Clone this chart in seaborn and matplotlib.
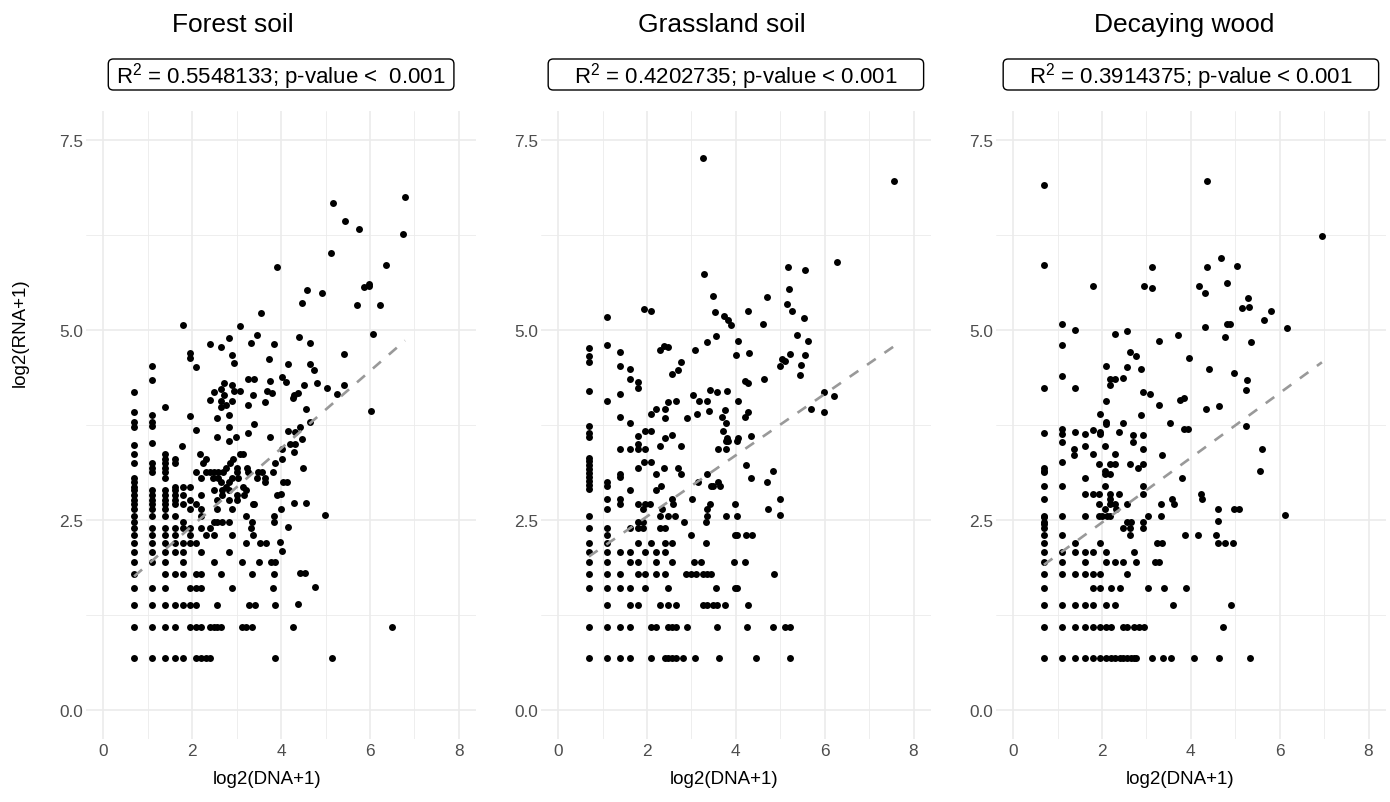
import numpy as np
import pandas as pd

import seaborn as sns
import matplotlib.pyplot as plt
from matplotlib.patches import FancyBboxPatch
from matplotlib.transforms import IdentityTransform

sns.set_style("white")
plt.rcParams["font.family"] = ["Liberation Sans", "DejaVu Sans"]
plt.rcParams["mathtext.fontset"] = "custom"
plt.rcParams["mathtext.rm"] = "Liberation Sans"
plt.rcParams["text.color"] = "black"
plt.rcParams["axes.labelcolor"] = "black"

DPI = 100
FIGSIZE = (13.9, 8.03)
GRID = "#EBEBEB"

titles = ["Forest soil", "Grassland soil", "Decaying wood"]
stats = [
    "R$^{2}$ = 0.5548133; p-value <  0.001",
    "R$^{2}$ = 0.4202735; p-value < 0.001",
    "R$^{2}$ = 0.3914375; p-value < 0.001",
]
# dashed lm line
fit_intercept = [1.41, 1.745, 1.62]
fit_slope = [0.508, 0.402, 0.425]

# scattered points (dna, rna)
forest_pts = [
    (3.90, 5.83), (3.55, 5.22), (1.79, 5.07), (3.08, 5.05), (3.46, 4.93), (2.83, 4.89), (2.39, 4.82), (2.64, 4.78),
    (3.32, 4.83), (3.84, 4.82), (1.95, 4.70), (1.95, 4.63), (2.08, 4.51), (2.89, 4.67), (2.94, 4.57), (3.73, 4.62),
    (4.15, 4.55), (1.10, 4.52), (1.10, 4.34), (0.69, 4.19), (3.25, 4.36), (3.40, 4.36), (3.76, 4.33), (4.02, 4.38),
    (4.10, 4.32), (2.71, 4.30), (2.89, 4.28), (2.50, 4.19), (2.64, 4.22), (2.71, 4.15), (2.94, 4.20), (3.08, 4.20),
    (3.36, 4.15), (3.68, 4.20), (3.80, 4.17), (2.39, 4.08), (2.64, 4.06), (2.64, 3.98), (2.77, 4.01), (2.89, 4.07),
    (3.25, 4.01), (3.63, 4.05), (1.39, 3.99), (0.69, 3.92), (1.10, 3.88), (0.69, 3.79), (0.69, 3.73), (1.10, 3.79),
    (1.10, 3.74), (1.95, 3.87), (2.08, 3.69), (2.56, 3.84), (2.83, 3.88), (2.83, 3.73), (3.39, 3.76), (3.25, 3.64),
    (2.99, 3.59), (2.56, 3.59), (2.83, 3.54), (3.74, 3.59), (4.16, 3.67), (0.69, 3.49), (1.10, 3.51),
    (6.79, 6.74), (5.17, 6.67), (5.44, 6.43), (5.75, 6.32), (6.74, 6.26), (5.13, 6.01), (6.36, 5.85), (4.59, 5.52),
    (4.47, 5.35), (4.92, 5.49), (5.87, 5.56), (5.97, 5.60), (5.99, 5.57), (5.70, 5.33), (6.22, 5.32), (6.08, 4.94),
    (4.40, 4.91), (4.64, 4.83), (5.41, 4.68), (4.64, 4.55), (4.73, 4.47), (4.52, 4.28), (4.81, 4.30), (5.03, 4.23),
    (5.25, 4.16), (5.41, 4.28), (4.38, 4.17), (4.26, 4.11), (4.30, 4.14), (4.55, 3.96), (6.02, 3.94), (4.65, 3.79),
    (4.43, 3.72), (4.31, 3.66), (4.20, 3.50), (4.32, 3.50), (4.46, 3.57),
    (4.02, 3.44), (4.30, 3.40), (4.02, 3.30), (4.49, 3.19), (4.05, 3.00), (4.13, 3.00), (4.00, 2.84), (4.30, 2.72),
    (4.56, 2.72), (3.99, 2.65), (4.98, 2.57), (4.16, 2.41), (3.98, 2.21), (4.02, 2.09), (4.43, 1.81), (4.53, 1.81),
    (4.76, 1.62), (4.38, 1.40), (4.26, 1.10), (6.50, 1.10), (5.15, 0.69),
]
# dense lower-left part, one row per rna level: (rna, [dna, ...])
forest_rows = [
    (0.69, [0.69, 1.10, 1.39, 1.61, 1.79, 2.08, 2.20, 2.30, 2.40, 3.86]),
    (1.10, [0.69, 1.10, 1.39, 1.61, 1.95, 2.08, 2.20, 2.40, 2.48, 2.56, 2.64, 3.11, 3.22, 3.34]),
    (1.39, [0.69, 1.10, 1.39, 1.61, 1.79, 1.95, 2.08, 2.56, 3.28, 3.41, 3.86]),
    (1.61, [0.69, 1.10, 1.39, 1.95, 2.08, 2.20, 2.89, 3.82]),
    (1.79, [0.69, 1.39, 1.61, 1.79, 2.08, 2.20, 2.64, 3.34, 3.84]),
    (1.95, [0.69, 1.10, 1.39, 1.79, 2.48, 3.13, 3.51, 3.77, 3.86]),
    (2.08, [0.69, 1.10, 1.39, 1.61, 1.79, 2.20, 2.83]),
    (2.20, [0.69, 1.10, 1.39, 1.61, 1.79, 1.95, 2.08, 3.21, 3.52, 3.67]),
    (2.30, [0.69, 1.10, 1.39, 1.61, 1.95, 2.30, 2.48, 2.89, 3.36]),
    (2.40, [0.69, 1.10, 1.39, 1.61, 1.79, 1.95, 2.20, 2.40, 3.32]),
    (2.48, [0.69, 1.79, 2.48, 2.56, 2.66, 2.83, 3.34, 3.84]),
    (2.56, [0.69, 1.10, 1.39, 1.61, 2.20, 3.21, 3.84]),
    (2.64, [0.69, 1.10, 1.39, 1.95, 2.20, 2.56, 2.89]),
    (2.71, [0.69, 1.10, 1.39, 1.61, 1.79, 2.08, 3.36, 3.40]),
    (2.77, [0.69, 1.10, 1.39, 1.61, 1.95, 2.56, 2.83, 3.00]),
    (2.83, [0.69, 1.10, 1.39, 1.61, 1.79, 2.20, 2.66, 3.00, 3.16, 3.90]),
    (2.89, [0.69, 1.10, 1.39, 1.61, 2.49, 2.66, 2.83, 3.21]),
    (2.94, [0.69, 1.61, 1.79, 1.95, 2.77, 3.15]),
    (3.00, [0.69, 2.64, 2.83, 3.64]),
    (3.06, [0.69, 1.39, 2.20, 2.47, 2.59, 2.90, 3.02, 3.45, 3.64]),
    (3.13, [1.10, 1.39, 2.08, 2.31, 2.40, 2.49, 2.59, 2.70, 3.00, 3.26, 3.49, 3.58, 3.82]),
    (3.19, [1.10, 1.39, 2.77, 3.00, 3.24]),
    (3.25, [0.69, 1.10, 1.39, 1.61, 2.25, 2.85, 3.86]),
    (3.30, [1.39, 1.61, 2.31, 2.92]),
    (3.37, [0.69, 1.39, 2.17, 3.07, 3.15]),
    (3.48, [1.76]),
]

grass_pts = [
    (3.25, 7.26), (3.29, 5.74), (3.49, 5.45), (3.52, 5.23), (3.73, 5.18), (3.82, 5.13), (3.90, 5.07), (1.94, 5.28),
    (2.08, 5.25), (1.10, 5.17), (3.55, 4.92), (3.36, 4.84), (4.04, 4.86), (3.09, 4.74), (4.00, 4.67), (0.69, 4.76),
    (0.69, 4.65), (0.69, 4.58), (1.10, 4.80), (1.39, 4.71), (1.39, 4.52), (1.61, 4.49), (1.61, 4.35), (1.79, 4.31),
    (1.79, 4.23), (2.30, 4.73), (2.39, 4.79), (2.48, 4.78), (2.76, 4.58), (2.70, 4.47), (2.56, 4.42), (0.69, 4.20),
    (1.10, 4.07), (1.39, 4.16), (1.39, 3.85), (1.61, 3.77), (1.79, 3.60), (1.95, 3.67), (2.08, 3.67), (2.08, 3.90),
    (2.20, 3.96), (2.40, 3.96), (2.40, 3.84), (2.48, 4.05), (2.64, 4.07), (2.56, 3.62), (2.40, 3.58), (2.89, 3.84),
    (3.03, 4.14), (3.17, 4.07), (3.13, 3.90), (3.36, 4.07), (3.42, 4.21), (3.58, 4.18), (3.80, 4.20), (3.39, 3.94),
    (3.68, 3.86), (3.75, 3.95), (3.78, 3.77), (3.72, 3.67), (4.04, 4.07), (4.20, 4.33), (4.20, 3.86), (3.80, 3.58),
    (4.04, 3.58), (0.69, 3.74), (0.69, 3.65), (0.69, 3.59),
    (7.57, 6.95), (6.28, 5.89), (5.18, 5.83), (5.56, 5.78), (5.19, 5.54), (4.70, 5.43), (5.14, 5.34), (5.27, 5.25),
    (4.28, 5.25), (5.54, 5.15), (4.61, 5.08), (5.37, 4.93), (5.63, 4.85), (4.30, 4.69), (5.21, 4.68), (5.55, 4.67),
    (5.03, 4.62), (5.11, 4.59), (4.99, 4.52), (5.46, 4.54), (5.45, 4.41), (4.28, 4.30), (4.63, 4.35), (4.27, 3.92),
    (4.34, 3.60), (5.98, 4.18), (6.20, 4.13), (5.68, 3.96), (5.99, 3.92),
    (4.23, 3.23), (4.84, 3.14), (4.35, 3.05), (4.69, 3.00), (4.99, 2.78), (4.99, 2.57), (4.72, 2.64), (4.21, 1.95),
    (4.86, 1.79), (4.03, 1.61), (4.27, 1.39), (4.24, 1.10), (4.83, 1.10), (5.11, 1.10), (5.22, 1.10), (4.45, 0.69),
    (5.22, 0.69),
    (0.69, 3.32), (0.69, 3.28), (0.69, 3.23), (0.69, 3.17), (0.69, 3.12), (0.69, 3.07), (0.69, 3.01), (0.69, 2.96),
    (0.69, 2.91),
]
grass_rows = [
    (0.69, [0.69, 1.10, 1.39, 1.61, 2.08, 2.40, 2.48, 2.56, 2.64, 2.80, 3.09, 3.63]),
    (1.10, [0.69, 1.10, 1.39, 1.61, 2.08, 2.20, 2.48, 2.56, 2.64, 2.89, 3.58]),
    (1.39, [1.10, 1.61, 1.79, 2.30, 2.48, 2.64, 3.25, 3.36, 3.48, 3.58, 3.75]),
    (1.61, [0.69, 1.10, 1.39, 1.61, 1.95, 2.48, 3.55, 3.98]),
    (1.79, [0.69, 1.10, 1.39, 1.79, 1.95, 2.20, 2.40, 2.88, 3.00, 3.11, 3.25, 3.36, 3.45]),
    (1.95, [0.69, 1.10, 1.61, 1.79, 2.20, 2.56, 3.05, 3.22, 3.96]),
    (2.08, [0.69, 1.10, 1.39, 1.61, 1.95, 2.20, 2.40]),
    (2.20, [0.69, 1.10, 1.79, 2.08, 2.40, 2.56, 3.33]),
    (2.30, [1.10, 2.99, 3.98, 4.03, 4.23, 4.37]),
    (2.40, [0.69, 1.10, 1.61, 1.79, 1.91, 2.30, 2.40]),
    (2.48, [1.79, 1.91, 2.83, 3.33]),
    (2.56, [0.69, 2.30, 2.46, 2.63, 3.34, 3.78, 4.03]),
    (2.64, [1.10, 1.91, 2.33, 3.34]),
    (2.71, [1.39, 1.79, 1.95, 2.06, 2.59, 3.42, 3.98]),
    (2.78, [1.10, 1.39, 2.55, 3.02]),
    (2.89, [1.61, 2.19]),
    (2.95, [1.10, 2.31, 3.45, 3.49, 3.64]),
    (3.00, [1.10, 3.14, 3.60]),
    (3.07, [1.39]),
    (3.10, [1.39, 2.19, 2.76, 3.36]),
    (3.18, [1.79, 2.39, 2.70]),
    (3.26, [1.93, 2.08]),
    (3.43, [1.39, 1.61, 1.79, 1.95, 3.60, 3.77]),
    (3.48, [2.30, 2.76]),
    (3.50, [1.79]),
    (3.54, [3.77, 3.83, 4.02]),
]

wood_pts = [
    (0.69, 6.90), (0.69, 5.85), (1.79, 5.57), (3.12, 5.82), (2.94, 5.57), (3.12, 5.55), (4.18, 5.58), (1.10, 5.08),
    (1.39, 5.00), (1.10, 4.80), (2.30, 4.94), (2.55, 4.98), (3.29, 4.86), (3.70, 4.93), (3.96, 4.63), (2.62, 4.71),
    (2.76, 4.66), (2.08, 4.52), (2.55, 4.51), (2.88, 4.49), (1.10, 4.40), (0.69, 4.24), (1.39, 4.23), (2.18, 4.36),
    (2.30, 4.36), (2.18, 4.27), (2.48, 4.37), (2.08, 4.07), (2.93, 4.18), (3.08, 4.16), (3.29, 4.01), (3.75, 4.08),
    (3.84, 4.11), (1.95, 3.89), (2.08, 3.79), (2.08, 3.76), (2.48, 3.77), (2.88, 3.88), (3.52, 3.77), (3.85, 3.70),
    (3.94, 3.70), (0.69, 3.65), (1.10, 3.70), (1.10, 3.63), (1.39, 3.66), (1.61, 3.63), (1.79, 3.69), (1.95, 3.66),
    (1.95, 3.63), (2.39, 3.66), (2.70, 3.62), (2.93, 3.62),
    (4.36, 6.95), (6.95, 6.23), (4.68, 5.94), (4.36, 5.82), (5.03, 5.84), (4.81, 5.62), (4.32, 5.48), (5.29, 5.42),
    (5.14, 5.29), (5.30, 5.30), (5.80, 5.25), (5.65, 5.13), (4.32, 5.04), (4.81, 5.08), (4.89, 5.08), (6.16, 5.02),
    (4.77, 4.91), (5.35, 4.84), (4.40, 4.48), (4.97, 4.43), (5.27, 4.34), (5.24, 4.21), (4.34, 3.96), (4.64, 4.00),
    (5.25, 3.74),
    (5.60, 3.44), (5.56, 3.14), (4.23, 2.85), (4.25, 2.78), (4.61, 2.64), (4.96, 2.64), (5.08, 2.64), (4.61, 2.49),
    (6.13, 2.57), (4.16, 2.31), (4.57, 2.31), (4.61, 2.20), (4.76, 2.20), (4.95, 2.20), (4.90, 1.39), (4.73, 1.10),
    (4.07, 0.69), (4.63, 0.69), (5.32, 0.69),
]
wood_rows = [
    (0.69, [0.69, 1.10, 1.39, 1.61, 1.79, 1.95, 2.08, 2.20, 2.30, 2.40, 2.48, 2.56, 2.64, 2.71, 2.77, 3.13, 3.38, 3.55]),
    (1.10, [0.69, 1.10, 1.39, 1.61, 1.79, 1.95, 2.08, 2.20, 2.48, 2.56, 2.71, 2.83, 2.94]),
    (1.39, [0.69, 1.10, 1.39, 1.61, 1.79, 2.08, 2.30, 3.60]),
    (1.61, [0.69, 1.79, 1.95, 2.20, 2.40, 3.03, 3.39, 3.90]),
    (1.79, [0.69, 1.10, 1.39, 1.61, 1.79, 1.95, 2.55]),
    (1.95, [0.69, 1.10, 1.61, 2.08, 2.30, 2.48, 2.77, 3.20, 3.29]),
    (2.08, [0.69, 1.10, 1.39, 1.61, 1.79, 2.08, 2.71]),
    (2.20, [0.69, 1.39, 1.95, 3.24, 3.34]),
    (2.30, [0.69, 1.10, 2.62, 3.87]),
    (2.40, [0.69, 2.46, 2.62, 2.93]),
    (2.45, [0.69]),
    (2.48, [0.69, 2.55, 2.64, 2.93]),
    (2.54, [0.69]),
    (2.56, [0.69, 1.10, 1.61, 1.93, 2.00, 2.10, 2.18, 3.03, 3.33]),
    (2.64, [2.07, 2.31]),
    (2.71, [1.94, 2.18, 2.30, 2.55, 3.33, 3.62]),
    (2.78, [0.69, 2.18, 3.57]),
    (2.84, [1.61, 1.79, 1.94, 2.18, 2.39, 2.93]),
    (2.95, [0.69, 1.10, 2.07, 2.93]),
    (3.05, [1.61, 3.81]),
    (3.11, [2.07, 2.18]),
    (3.13, [0.69]),
    (3.15, [0.69, 2.07]),
    (3.18, [0.69, 2.82]),
    (3.24, [1.94, 2.18, 2.30, 2.62, 2.93]),
    (3.27, [1.10]),
    (3.35, [1.37, 3.36]),
    (3.37, [1.79, 2.30]),
    (3.43, [1.37, 2.93]),
    (3.48, [1.61, 2.07]),
    (3.53, [1.10, 2.70]),
]


def build_frame(pts, rows):
    dna = [p[0] for p in pts]
    rna = [p[1] for p in pts]
    for level, xs in rows:
        dna += xs
        rna += [level] * len(xs)
    return pd.DataFrame({"dna": dna, "rna": rna})


frames = [
    build_frame(forest_pts, forest_rows),
    build_frame(grass_pts, grass_rows),
    build_frame(wood_pts, wood_rows),
]

W, H = 1390, 803
panel_left = [85.7, 540.5, 995.5]
panel_w, panel_top, panel_bottom = 390.8, 112, 740
title_x = [233, 722, 1184]
xlabel_x = [267, 724, 1180]
box_padx = [8, 26, 26]

fig = plt.figure(figsize=FIGSIZE, dpi=DPI)
stat_texts = []
for i in range(3):
    ax = fig.add_axes([
        panel_left[i] / W,
        1 - panel_bottom / H,
        panel_w / W,
        (panel_bottom - panel_top) / H,
    ])
    df = frames[i]
    sns.scatterplot(x="dna", y="rna", data=df, color="black", s=25, linewidth=0, ax=ax, zorder=3)
    xx = np.array([df["dna"].min(), df["dna"].max()])
    ax.plot(xx, fit_intercept[i] + fit_slope[i] * xx, color="#999999", lw=1.9,
            linestyle=(0, (4, 4)), zorder=4)

    ax.set_xlim(-0.4, 8.4)
    ax.set_ylim(-0.375, 7.875)
    ax.set_xticks([0, 2, 4, 6, 8])
    ax.set_xticks([1, 3, 5, 7], minor=True)
    ax.set_yticks([0, 2.5, 5, 7.5])
    ax.set_yticklabels(["0.0", "2.5", "5.0", "7.5"])
    ax.set_yticks([1.25, 3.75, 6.25], minor=True)
    ax.grid(which="major", color=GRID, lw=1.2)
    ax.grid(which="minor", color=GRID, lw=0.6)
    ax.set_axisbelow(True)
    for s in ax.spines.values():
        s.set_visible(False)
    ax.tick_params(which="both", length=0, labelsize=12.4, labelcolor="#4D4D4D")
    ax.tick_params(axis="y", pad=1.5)
    ax.tick_params(axis="x", pad=3)

    ax.set_xlabel("log2(DNA+1)", fontsize=13.5)
    ax.xaxis.set_label_coords((xlabel_x[i] - panel_left[i]) / panel_w,
                              (panel_bottom - 780) / (panel_bottom - panel_top))
    ax.xaxis.label.set_va("center")
    if i == 0:
        ax.set_ylabel("log2(RNA+1)", fontsize=13.5)
        ax.yaxis.set_label_coords((20 - panel_left[i]) / panel_w,
                                  (panel_bottom - 333) / (panel_bottom - panel_top))
        ax.yaxis.label.set_va("center")
    else:
        ax.set_ylabel("")

    cx = panel_left[i] + panel_w / 2
    t = fig.text(cx / W, 1 - 83.5 / H, stats[i], ha="center", va="baseline", fontsize=16, zorder=5)
    stat_texts.append(t)
    fig.text(title_x[i] / W, 1 - 25 / H, titles[i], ha="center", va="center", fontsize=19)

# rounded label boxes sized around the stat texts
fig.canvas.draw()
renderer = fig.canvas.get_renderer()
for t, padx in zip(stat_texts, box_padx):
    bb = t.get_window_extent(renderer)
    box = FancyBboxPatch((bb.x0 - padx, H - 91), bb.width + 2 * padx, 31,
                         boxstyle="round,pad=0,rounding_size=5",
                         transform=IdentityTransform(), fc="white", ec="black", lw=1.0, zorder=4)
    fig.add_artist(box)

fig.savefig("out.png", dpi=DPI)
